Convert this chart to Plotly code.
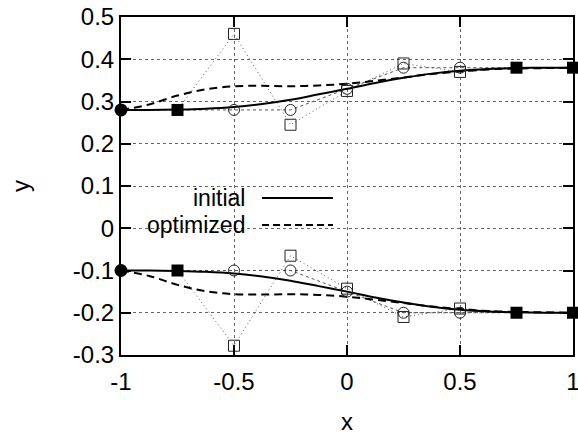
import plotly.graph_objects as go

# Control points (shared x positions)
ctrl_x = [-1.0, -0.75, -0.5, -0.25, 0.0, 0.25, 0.5, 0.75, 1.0]
upper_init_ctrl = [0.28, 0.28, 0.28, 0.28, 0.33, 0.38, 0.38, 0.38, 0.38]
upper_opt_ctrl = [0.28, 0.28, 0.46, 0.245, 0.325, 0.39, 0.37, 0.38, 0.38]
lower_init_ctrl = [-0.10, -0.10, -0.10, -0.10, -0.15, -0.20, -0.20, -0.20, -0.20]
lower_opt_ctrl = [-0.10, -0.10, -0.278, -0.065, -0.143, -0.21, -0.19, -0.20, -0.20]

# Sampled curves
curve_x = [-1.0, -0.875, -0.75, -0.625, -0.5, -0.375, -0.25, -0.125, 0.0,
           0.125, 0.25, 0.375, 0.5, 0.625, 0.75, 0.875, 1.0]
upper_init_curve = [0.280, 0.280, 0.281, 0.283, 0.287, 0.294, 0.304, 0.317, 0.330,
                    0.344, 0.356, 0.366, 0.373, 0.377, 0.379, 0.380, 0.380]
upper_opt_curve = [0.280, 0.293, 0.314, 0.329, 0.336, 0.337, 0.336, 0.338, 0.342,
                   0.349, 0.357, 0.365, 0.371, 0.376, 0.378, 0.379, 0.380]
lower_init_curve = [-0.100, -0.100, -0.101, -0.103, -0.107, -0.114, -0.124, -0.137, -0.150,
                    -0.164, -0.176, -0.186, -0.193, -0.197, -0.199, -0.200, -0.200]
lower_opt_curve = [-0.100, -0.113, -0.134, -0.149, -0.156, -0.157, -0.156, -0.158, -0.162,
                   -0.169, -0.177, -0.185, -0.191, -0.196, -0.198, -0.199, -0.200]

x_tickvals = [-1, -0.5, 0, 0.5, 1]
x_ticktext = ["-1", "-0.5", "0", "0.5", "1"]
y_tickvals = [0.5, 0.4, 0.3, 0.2, 0.1, 0, -0.1, -0.2, -0.3]
y_ticktext = ["0.5", "0.4", "0.3", "0.2", "0.1", "0", "-0.1", "-0.2", "-0.3"]

legend_labels = ["initial", "optimized"]

FONT = "Liberation Sans, Arial, sans-serif"
FS = 24
KEY_FS = 23
GRAY = "#555555"
MARK = "#222222"

fig = go.Figure()

# control polygons
for ys in (upper_init_ctrl, lower_init_ctrl):
    fig.add_trace(go.Scatter(x=ctrl_x, y=ys, mode="lines",
                             line=dict(color=GRAY, width=1, dash="3px,3px"),
                             hoverinfo="skip", showlegend=False))
for ys in (upper_opt_ctrl, lower_opt_ctrl):
    fig.add_trace(go.Scatter(x=ctrl_x, y=ys, mode="lines",
                             line=dict(color=GRAY, width=1, dash="1px,3px"),
                             hoverinfo="skip", showlegend=False))

# curves
for ys in (upper_init_curve, lower_init_curve):
    fig.add_trace(go.Scatter(x=curve_x, y=ys, mode="lines", line_shape="spline",
                             line=dict(color="black", width=2),
                             showlegend=False))
for ys in (upper_opt_curve, lower_opt_curve):
    fig.add_trace(go.Scatter(x=curve_x, y=ys, mode="lines", line_shape="spline",
                             line=dict(color="black", width=2, dash="8px,5px"),
                             showlegend=False))

# markers
for init_c, opt_c in ((upper_init_ctrl, upper_opt_ctrl), (lower_init_ctrl, lower_opt_ctrl)):
    fig.add_trace(go.Scatter(x=ctrl_x[2:7], y=init_c[2:7], mode="markers",
                             marker=dict(symbol="circle-open", size=11, color=MARK,
                                         line=dict(color=MARK, width=1)),
                             cliponaxis=False, showlegend=False))
    fig.add_trace(go.Scatter(x=ctrl_x[2:7], y=opt_c[2:7], mode="markers",
                             marker=dict(symbol="square-open", size=11, color=MARK,
                                         line=dict(color=MARK, width=1)),
                             cliponaxis=False, showlegend=False))
    sq_idx = [1, 7, 8]
    fig.add_trace(go.Scatter(x=[ctrl_x[i] for i in sq_idx], y=[init_c[i] for i in sq_idx],
                             mode="markers",
                             marker=dict(symbol="square", size=12, color="black"),
                             cliponaxis=False, showlegend=False))
    fig.add_trace(go.Scatter(x=ctrl_x[:1], y=init_c[:1], mode="markers",
                             marker=dict(symbol="circle", size=13, color="black"),
                             cliponaxis=False, showlegend=False))

# key box and entries
fig.add_shape(type="rect", xref="paper", yref="paper", x0=0.0, x1=0.495, y0=0.346, y1=0.49,
              fillcolor="white", line_width=0, layer="between")
key_y = [0.4645, 0.3845]
key_dash = ["solid", "7px,4px"]
for lab, ky, kd in zip(legend_labels, key_y, key_dash):
    fig.add_annotation(text=lab, xref="paper", yref="paper", x=0.276, y=ky,
                       xanchor="right", yanchor="middle", showarrow=False,
                       borderpad=0,
                       font=dict(family=FONT, size=KEY_FS, color="black"))
    fig.add_shape(type="line", xref="paper", yref="paper", x0=0.312, x1=0.469,
                  y0=ky, y1=ky, line=dict(color="black", width=2, dash=kd))

axis_common = dict(showline=True, linecolor="black", linewidth=2, mirror="ticks",
                   ticks="inside", ticklen=10, tickwidth=2, tickcolor="black",
                   showgrid=True, gridcolor="#666666", griddash="dot", gridwidth=1,
                   zeroline=False, automargin=False, ticklabeloverflow="allow",
                   tickfont=dict(family=FONT, size=FS, color="black"))

fig.update_xaxes(range=[-1, 1], tickvals=x_tickvals, ticktext=x_ticktext,
                 ticklabelstandoff=4,
                 title=dict(text="x", font=dict(family=FONT, size=FS, color="black"), standoff=22),
                 **axis_common)
fig.update_yaxes(range=[-0.3, 0.5], tickvals=y_tickvals, ticktext=y_ticktext,
                 title=dict(text="y", font=dict(family=FONT, size=FS, color="black"), standoff=36),
                 **axis_common)

fig.update_layout(width=578, height=435, margin=dict(l=121, r=5, t=17, b=80),
                  plot_bgcolor="white", paper_bgcolor="white", showlegend=False)

fig.write_html("out.html")
